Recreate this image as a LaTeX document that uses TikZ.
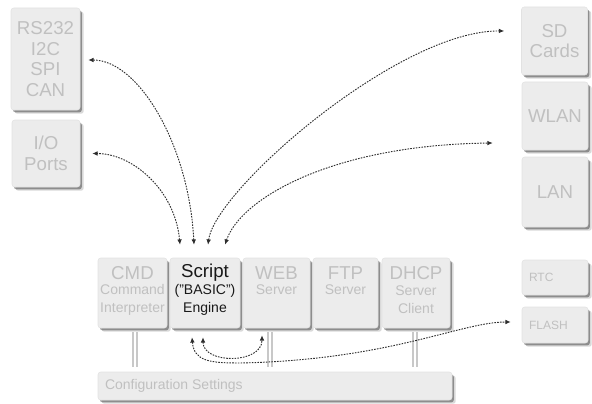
\documentclass[tikz,border=0pt]{standalone}
\usepackage{fontspec}
\setmainfont{Liberation Sans}
\usetikzlibrary{shadows,arrows.meta,calc}
\definecolor{boxfill}{RGB}{236,236,236}
\definecolor{boxedge}{RGB}{226,226,226}
\definecolor{txtgray}{RGB}{192,192,192}
\definecolor{linedark}{RGB}{45,45,45}
\definecolor{pipecol}{RGB}{200,200,200}
\begin{document}
\begin{tikzpicture}[x=0.75pt,y=-0.75pt,
  box/.style={draw=boxedge, fill=boxfill, rounded corners=2pt, inner sep=0pt,
    text=txtgray, align=center,
    drop shadow={shadow xshift=2.8pt,shadow yshift=-2.8pt,opacity=.15,fill=black},
    drop shadow={shadow xshift=1.4pt,shadow yshift=-1.8pt,opacity=.35,fill=black}},
  big/.style={font=\fontsize{14}{15.5}\selectfont},
  mod/.style={box, minimum height=52.5pt},
  ttl/.style={inner sep=0pt, text=txtgray, font=\fontsize{14}{16}\selectfont},
  sub/.style={inner sep=0pt, text=txtgray, align=center, font=\fontsize{10.5}{13.5}\selectfont},
  tiny/.style={inner sep=0pt, text=txtgray, font=\fontsize{9}{10}\selectfont},
  conn/.style={draw=linedark, line width=0.7pt, dash pattern=on 1.2pt off 0.9pt,
    {Latex[length=4pt,width=3.5pt]}-{Latex[length=4pt,width=3.5pt]}},
  pipe/.style={draw=pipecol, line width=0.9pt, double=white, double distance=2.2pt}
]
\useasboundingbox (0,0) rectangle (592,403);

% left boxes
\node[box,big,minimum width=51.75pt,minimum height=76.5pt] (rs) at (45.5,59) {RS232\\I2C\\SPI\\CAN};
\node[box,big,minimum width=51pt,minimum height=50.25pt] (io) at (46,153.5) {I/O\\Ports};

% right boxes
\node[box,big,minimum width=49.5pt,minimum height=51pt] (sd) at (554.5,41) {SD\\Cards};
\node[box,big,minimum width=49.5pt,minimum height=51pt] (wlan) at (555,116) {WLAN};
\node[box,big,minimum width=49.5pt,minimum height=52.5pt] (lan) at (555,192) {LAN};
\node[box,minimum width=49.5pt,minimum height=26.25pt] (rtc) at (555,277.5) {};
\node[tiny,anchor=west] (rtcT) at ($(rtc.west)+(7,0)$) {RTC};
\node[box,minimum width=49.5pt,minimum height=27pt] (flash) at (555,325) {};
\node[tiny,anchor=west] (flashT) at ($(flash.west)+(7,0)$) {FLASH};

% modules
\node[mod,minimum width=51.75pt] (cmd) at (132.5,293) {};
\node[mod,minimum width=52.5pt] (script) at (205,293) {};
\node[mod,minimum width=50.25pt] (web) at (276.5,293) {};
\node[mod,minimum width=48.75pt] (ftp) at (345.5,293) {};
\node[mod,minimum width=51pt] (dhcp) at (416,293) {};

\node[ttl] (cmdT) at ($(cmd.north)+(0,15)$) {CMD};
\node[sub] (cmdS) at ($(cmd.north)+(0,42)$) {Command\\Interpreter};
\node[ttl,text=black!90] (scriptT) at ($(script.north)+(0,15)$) {Script};
\node[sub,text=black!90] (scriptS) at ($(script.north)+(0,42)$) {("BASIC")\\Engine};
\node[ttl] (webT) at ($(web.north)+(0,15)$) {WEB};
\node[sub,anchor=north] (webS) at ($(web.north)+(0,27)$) {Server};
\node[ttl] (ftpT) at ($(ftp.north)+(0,15)$) {FTP};
\node[sub,anchor=north] (ftpS) at ($(ftp.north)+(0,27)$) {Server};
\node[ttl] (dhcpT) at ($(dhcp.north)+(0,15)$) {DHCP};
\node[sub] (dhcpS) at ($(dhcp.north)+(0,42)$) {Server\\Client};

% configuration bar
\node[box,minimum width=265.5pt,minimum height=21pt] (cfg) at (275,386) {};
\node[sub,anchor=west,font=\fontsize{10.5}{12}\selectfont] (cfgT) at ($(cfg.west)+(7,0)$) {Configuration Settings};

% pipes
\draw[pipe] ($(cmd.south)+(2.5,4)$) -- ($(cmd.south |- cfg.north)+(2.5,-5)$);
\draw[pipe] ($(web.south)+(-6.5,4)$) -- ($(web.south |- cfg.north)+(-6.5,-5)$);
\draw[pipe] ($(dhcp.south)+(-1,4)$) -- ($(dhcp.south |- cfg.north)+(-1,-5)$);

% connector end points
\coordinate (s1) at ($(script.north)+(-25,-13)$);
\coordinate (s2) at ($(script.north)+(-11,-13)$);
\coordinate (s3) at ($(script.north)+(3,-13)$);
\coordinate (s4) at ($(script.north)+(20,-13)$);
\coordinate (rsA) at ($(rs.east)+(8,1)$);
\coordinate (ioA) at ($(io.east)+(12,0)$);
\coordinate (sdA) at ($(sd.west)+(-17,-10)$);
\coordinate (wlanA) at ($(wlan.west)+(-29,27)$);
\coordinate (b1) at ($(script.south)+(-13,9)$);
\coordinate (b2) at ($(script.south)+(-2,9)$);
\coordinate (webA) at ($(web.south)+(-14.5,7)$);
\coordinate (flA) at ($(flash.west)+(-11,-3)$);
\coordinate (flM) at (240,363);

% connectors
\draw[conn] (s2) .. controls +(-5,-100) and +(50,0) .. (rsA);
\draw[conn] (s1) .. controls +(-5,-55) and +(40,0) .. (ioA);
\draw[conn] (s3) .. controls +(7,-55) and +(-105,-1) .. (sdA);
\draw[conn] (s4) .. controls +(15,-45) and +(-163,2) .. (wlanA);
\draw[conn] (b2) .. controls +(0,27) and +(0,29) .. (webA);
\draw[conn] (b1) .. controls +(2,24) and +(-30,0) .. (flM) .. controls +(150,-3) and +(-50,0) .. (flA);
\end{tikzpicture}
\end{document}
